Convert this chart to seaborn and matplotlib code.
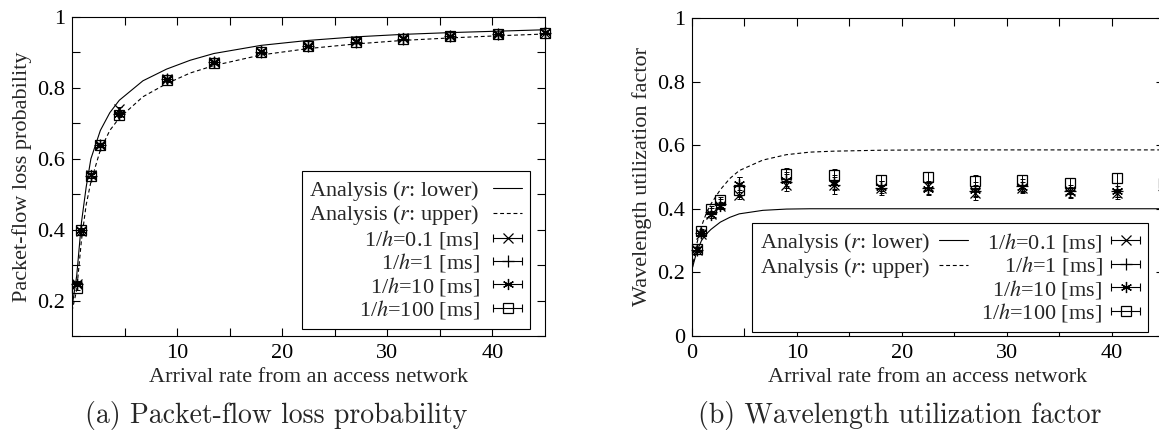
import numpy as np
import pandas as pd
import matplotlib
matplotlib.use('Agg')
import matplotlib.pyplot as plt
import seaborn as sns
from matplotlib.lines import Line2D
from matplotlib.legend_handler import HandlerLine2D, HandlerTuple
from matplotlib.ticker import MultipleLocator, FuncFormatter

# arrival rates of the simulation points
sim_x = [0.45, 0.9, 1.8, 2.7, 4.5, 9, 13.5, 18, 22.5, 27, 31.5, 36, 40.5, 45]
# points where the analysis curves were read
ana_x = [0, 0.45, 0.9, 1.35, 1.8, 2.7, 3.6, 4.5, 6.75, 9, 11.25, 13.5, 18, 22.5, 27, 31.5, 36, 40.5, 45]

# (a) packet-flow loss probability
loss_lower = [0.18, 0.27, 0.42, 0.52, 0.60, 0.68, 0.73, 0.765, 0.82, 0.853, 0.878, 0.897, 0.92, 0.934, 0.944, 0.951, 0.956, 0.960, 0.964]
loss_upper = [0.17, 0.23, 0.37, 0.47, 0.535, 0.625, 0.68, 0.715, 0.775, 0.812, 0.842, 0.863, 0.893, 0.911, 0.924, 0.934, 0.941, 0.947, 0.952]
loss_h01 = [0.248, 0.395, 0.553, 0.639, 0.740, 0.824, 0.873, 0.902, 0.918, 0.931, 0.940, 0.946, 0.951, 0.956]
loss_h1 = [0.246, 0.400, 0.552, 0.639, 0.725, 0.824, 0.872, 0.902, 0.917, 0.930, 0.939, 0.946, 0.951, 0.956]
loss_h10 = [0.246, 0.400, 0.553, 0.640, 0.726, 0.825, 0.873, 0.903, 0.918, 0.931, 0.940, 0.947, 0.952, 0.957]
loss_h100 = [0.236, 0.400, 0.552, 0.639, 0.724, 0.822, 0.871, 0.901, 0.917, 0.930, 0.939, 0.946, 0.951, 0.956]
loss_err = [0.006, 0.006, 0.006, 0.005, 0.005, 0.004, 0.004, 0.003, 0.003, 0.003, 0.003, 0.003, 0.003, 0.003]

# (b) wavelength utilization factor
util_lower = [0.21, 0.265, 0.30, 0.32, 0.335, 0.358, 0.373, 0.384, 0.395, 0.399, 0.40, 0.40, 0.40, 0.40, 0.40, 0.40, 0.40, 0.40, 0.40]
util_upper = [0.21, 0.29, 0.345, 0.385, 0.415, 0.46, 0.495, 0.52, 0.553, 0.570, 0.578, 0.581, 0.584, 0.585, 0.585, 0.585, 0.585, 0.585, 0.585]
util_h01 = [0.270, 0.320, 0.385, 0.410, 0.442, 0.476, 0.475, 0.465, 0.470, 0.450, 0.465, 0.455, 0.450, 0.460]
util_h1 = [0.270, 0.325, 0.390, 0.415, 0.470, 0.485, 0.475, 0.465, 0.465, 0.455, 0.470, 0.455, 0.455, 0.460]
util_h10 = [0.272, 0.325, 0.381, 0.410, 0.479, 0.490, 0.480, 0.468, 0.463, 0.458, 0.468, 0.453, 0.455, 0.460]
util_h100 = [0.275, 0.330, 0.398, 0.426, 0.458, 0.510, 0.505, 0.489, 0.500, 0.486, 0.491, 0.481, 0.497, 0.480]
util_err01 = [0.005, 0.006, 0.008, 0.008, 0.010, 0.012, 0.012, 0.010, 0.012, 0.012, 0.010, 0.010, 0.012, 0.012]
util_err1 = [0.006, 0.008, 0.012, 0.015, 0.030, 0.030, 0.030, 0.022, 0.022, 0.028, 0.022, 0.020, 0.025, 0.025]
util_err10 = [0.005, 0.006, 0.010, 0.010, 0.020, 0.020, 0.020, 0.018, 0.018, 0.018, 0.015, 0.015, 0.018, 0.018]
util_err100 = [0.005, 0.006, 0.010, 0.012, 0.020, 0.018, 0.020, 0.018, 0.016, 0.020, 0.015, 0.015, 0.015, 0.015]

sim_labels = ['1/$h$=0.1 [ms]', '1/$h$=1 [ms]', '1/$h$=10 [ms]', '1/$h$=100 [ms]']
sim_markers = ['x', '+', (6, 2, 0), 's']
sim_sizes = [7, 8, 8, 7]

sns.set_theme(style='ticks')
plt.rcParams['font.family'] = ['Liberation Serif', 'DejaVu Serif']
plt.rcParams['mathtext.fontset'] = 'stix'
plt.rcParams['font.size'] = 16
plt.rcParams['axes.linewidth'] = 0.8
plt.rcParams['axes.edgecolor'] = 'black'

fig = plt.figure(figsize=(11.59, 4.37), dpi=100)
ax1 = fig.add_axes([0.0621, 0.2311, 0.4081, 0.730])
ax2 = fig.add_axes([0.5971, 0.2311, 0.4072, 0.728])


def draw_panel(ax, lower, upper, sims, errs):
    df = pd.DataFrame({
        'x': ana_x + ana_x,
        'y': lower + upper,
        'curve': ['lower'] * len(ana_x) + ['upper'] * len(ana_x),
    })
    sns.lineplot(data=df, x='x', y='y', style='curve', dashes={'lower': '', 'upper': (3.5, 2.5)},
                 color='black', lw=0.8, legend=False, ax=ax, estimator=None, sort=False)
    for ys, es, mk, ms in zip(sims, errs, sim_markers, sim_sizes):
        ax.errorbar(sim_x, ys, yerr=es, fmt='none', ecolor='black', elinewidth=0.7,
                    capsize=1.8, capthick=0.7, clip_on=False)
        ax.plot(sim_x, ys, ls='none', marker=mk, ms=ms, mew=0.9, mec='black',
                mfc='none', color='black', clip_on=False)


draw_panel(ax1, loss_lower, loss_upper,
           [loss_h01, loss_h1, loss_h10, loss_h100], [loss_err] * 4)
draw_panel(ax2, util_lower, util_upper,
           [util_h01, util_h1, util_h10, util_h100],
           [util_err01, util_err1, util_err10, util_err100])

fmt = FuncFormatter(lambda v, p: '%g' % round(v, 2))


def even_only(v, p):
    if abs(round(v * 10) % 2) == 1:
        return ''
    return '%g' % round(v, 2)


for ax in (ax1, ax2):
    ax.set_xlim(0, 45)
    ax.xaxis.set_major_locator(MultipleLocator(5))
    ax.xaxis.set_major_formatter(FuncFormatter(
        lambda v, p: '%g' % v if (round(v) % 10 == 0) else ''))
    ax.tick_params(direction='in', top=True, right=True, length=5.5, width=0.8,
                   labelsize=16, colors='black')
    ax.tick_params(axis='x', pad=6)
    ax.tick_params(axis='y', pad=5)
    for s in ax.spines.values():
        s.set_color('black')
        s.set_linewidth(0.8)
    ax.set_xlabel('Arrival rate from an access network', fontsize=16, labelpad=3)

ax1.set_ylim(0.1, 1)
ax1.yaxis.set_major_locator(MultipleLocator(0.1))
ax1.yaxis.set_major_formatter(FuncFormatter(even_only))
ax1.set_xticks([5, 10, 15, 20, 25, 30, 35, 40])
ax1.set_ylabel('Packet-flow loss probability', fontsize=16, labelpad=4)

ax2.set_ylim(0, 1)
ax2.yaxis.set_major_locator(MultipleLocator(0.2))
ax2.yaxis.set_major_formatter(fmt)
ax2.set_ylabel('Wavelength utilization factor', fontsize=16, labelpad=4)

# legend handles in the gnuplot style: text right-aligned, sample on the right
h_lower = Line2D([], [], color='black', lw=0.8)
h_upper = Line2D([], [], color='black', lw=0.8, dashes=(3.5, 2.5))
handler_map = {}
sim_handles = []
for mk, ms in zip(sim_markers, sim_sizes):
    bar = Line2D([], [], color='black', lw=0.8, marker='|', ms=6, mew=0.8)
    pt = Line2D([], [], ls='none', marker=mk, ms=ms, mew=0.9, mec='black', mfc='none')
    handler_map[bar] = HandlerLine2D(numpoints=2, marker_pad=0)
    handler_map[pt] = HandlerLine2D(numpoints=1)
    sim_handles.append((bar, pt))
handler_map[tuple] = HandlerTuple(ndivide=1, pad=0)

ana_labels = ['Analysis ($r$: lower)', 'Analysis ($r$: upper)']

leg1 = ax1.legend([h_lower, h_upper] + sim_handles, ana_labels + sim_labels,
                  handler_map=handler_map, markerfirst=False, loc='lower right',
                  bbox_to_anchor=(0.968, 0.022), borderaxespad=0, fontsize=16,
                  handlelength=1.3, handletextpad=0.6, labelspacing=0.02,
                  borderpad=0.35, fancybox=False, framealpha=1, edgecolor='black')
leg1.get_frame().set_linewidth(0.8)

blank = Line2D([], [], color='none', lw=0)
leg2 = ax2.legend([h_lower, h_upper, blank, blank] + sim_handles,
                  ana_labels + ['', ''] + sim_labels, ncol=2,
                  handler_map=handler_map, markerfirst=False, loc='lower right',
                  bbox_to_anchor=(0.966, 0.013), borderaxespad=0, fontsize=16,
                  handlelength=1.3, handletextpad=0.4, labelspacing=0.02,
                  columnspacing=0.6, borderpad=0.35, fancybox=False, framealpha=1,
                  edgecolor='black')
leg2.get_frame().set_linewidth(0.8)

cap_font = ['cmr10', 'DejaVu Serif']
fig.text(276 / 1159, 1 - 415 / 437, '(a) Packet-flow loss probability',
         ha='center', va='center', family=cap_font, size=20)
fig.text(900 / 1159, 1 - 415 / 437, '(b) Wavelength utilization factor',
         ha='center', va='center', family=cap_font, size=20)

fig.savefig('out.png', dpi=100)
